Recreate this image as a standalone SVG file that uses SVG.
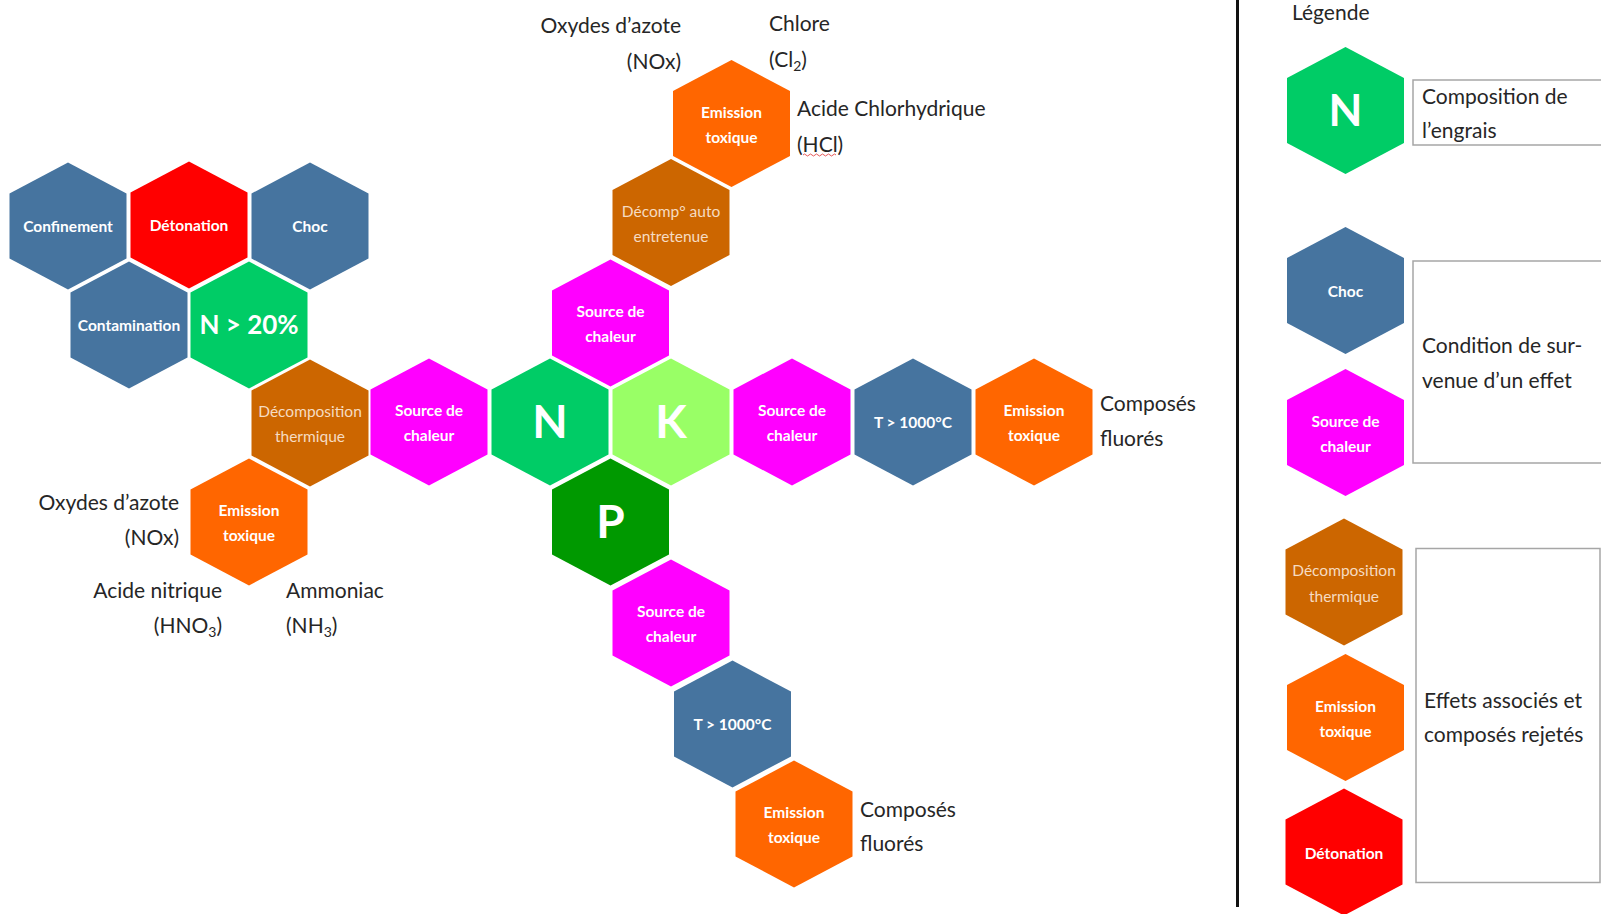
<svg xmlns="http://www.w3.org/2000/svg" xmlns:xlink="http://www.w3.org/1999/xlink" width="1601" height="914" viewBox="0 0 1601 914">
<style>
.blue{fill:#46749f}.red{fill:#ff0000}.green{fill:#00cc66}.lgreen{fill:#99ff66}.dgreen{fill:#009900}
.mag{fill:#ff00ff}.orange{fill:#ff6600}.brown{fill:#cc6600}
.hl{font-family:Lato,"Open Sans",sans-serif;font-size:15.5px;font-weight:bold;fill:#ffffff;text-anchor:middle}
.hb{font-family:Lato,"Open Sans",sans-serif;font-size:15.5px;font-weight:normal;fill:#f6dcc2;text-anchor:middle}
.big{font-family:Lato,"Open Sans",sans-serif;font-size:46px;font-weight:bold;fill:#ffffff;text-anchor:middle}
.lbl{font-family:Lato,"Open Sans",sans-serif;font-size:21px;fill:#262626}
.end{text-anchor:end}
.box{fill:#ffffff;stroke:#a6a6a6;stroke-width:1.5}
</style>
<defs>
<path id="hex" d="M0,-63.5 L58.5,-32.5 L58.5,32.5 L0,63.5 L-58.5,32.5 L-58.5,-32.5Z"/>
</defs>
<rect width="1601" height="914" fill="#ffffff"/>
<g id="connectors"/>
<!-- Left cluster -->
<g id="confinement"><use xlink:href="#hex" x="68" y="226" class="blue"/><text class="hl" x="68" y="232">Confinement</text></g>
<g id="detonation"><use xlink:href="#hex" x="189" y="225" class="red"/><text class="hl" x="189" y="231">Détonation</text></g>
<g id="choc"><use xlink:href="#hex" x="310" y="226" class="blue"/><text class="hl" x="310" y="232">Choc</text></g>
<g id="contamination"><use xlink:href="#hex" x="129" y="325" class="blue"/><text class="hl" x="129" y="331">Contamination</text></g>
<g id="n20"><use xlink:href="#hex" x="249" y="325" class="green"/><text class="hl" x="249" y="334" style="font-size:26px">N &gt; 20%</text></g>
<g id="decomp-left"><use xlink:href="#hex" x="310" y="423" class="brown"/><text class="hb" x="310" y="417">Décomposition</text><text class="hb" x="310" y="442">thermique</text></g>
<g id="emission-left"><use xlink:href="#hex" x="249" y="522" class="orange"/><text class="hl" x="249" y="516">Emission</text><text class="hl" x="249" y="541">toxique</text></g>
<g id="source-left"><use xlink:href="#hex" x="429" y="422" class="mag"/><text class="hl" x="429" y="416">Source de</text><text class="hl" x="429" y="441">chaleur</text></g>
<!-- NPK -->
<g id="n"><use xlink:href="#hex" x="550" y="422" class="green"/><text class="big" x="550" y="438">N</text></g>
<g id="k"><use xlink:href="#hex" x="671" y="422" class="lgreen"/><text class="big" x="671" y="438">K</text></g>
<g id="p"><use xlink:href="#hex" x="610.5" y="522" class="dgreen"/><text class="big" x="610.5" y="538">P</text></g>
<!-- Top branch -->
<g id="source-top"><use xlink:href="#hex" x="610.5" y="323" class="mag"/><text class="hl" x="610.5" y="317">Source de</text><text class="hl" x="610.5" y="342">chaleur</text></g>
<g id="decomp-auto"><use xlink:href="#hex" x="671" y="222.5" class="brown"/><text class="hb" x="671" y="216.5">Décomp° auto</text><text class="hb" x="671" y="241.5">entretenue</text></g>
<g id="emission-top"><use xlink:href="#hex" x="731.5" y="123.5" class="orange"/><text class="hl" x="731.5" y="117.5">Emission</text><text class="hl" x="731.5" y="142.5">toxique</text></g>
<!-- Right branch -->
<g id="source-right"><use xlink:href="#hex" x="792" y="422" class="mag"/><text class="hl" x="792" y="416">Source de</text><text class="hl" x="792" y="441">chaleur</text></g>
<g id="temp-right"><use xlink:href="#hex" x="913" y="422" class="blue"/><text class="hl" x="913" y="428">T &gt; 1000°C</text></g>
<g id="emission-right"><use xlink:href="#hex" x="1034" y="422" class="orange"/><text class="hl" x="1034" y="416">Emission</text><text class="hl" x="1034" y="441">toxique</text></g>
<!-- Bottom branch -->
<g id="source-bottom"><use xlink:href="#hex" x="671" y="623" class="mag"/><text class="hl" x="671" y="617">Source de</text><text class="hl" x="671" y="642">chaleur</text></g>
<g id="temp-bottom"><use xlink:href="#hex" x="732.5" y="724" class="blue"/><text class="hl" x="732.5" y="730">T &gt; 1000°C</text></g>
<g id="emission-bottom"><use xlink:href="#hex" x="794" y="824" class="orange"/><text class="hl" x="794" y="818">Emission</text><text class="hl" x="794" y="843">toxique</text></g>
<!-- Outer labels -->
<g id="labels">
<text class="lbl end" x="681" y="33">Oxydes d’azote</text>
<text class="lbl end" x="681" y="69">(NOx)</text>
<text class="lbl" x="769" y="31">Chlore</text>
<text class="lbl" x="769" y="67">(Cl<tspan font-size="14" dy="4">2</tspan><tspan dy="-4">)</tspan></text>
<text class="lbl" x="797" y="116">Acide Chlorhydrique</text>
<text class="lbl" x="797" y="152">(HCl)</text>
<path d="M803,155 q1.5,-2 3,0 t3,0 t3,0 t3,0 t3,0 t3,0 t3,0 t3,0 t3,0 t3,0 t3,0" fill="none" stroke="#e03030" stroke-width="0.8"/>
<text class="lbl" x="1100" y="411">Composés</text>
<text class="lbl" x="1100" y="446">fluorés</text>
<text class="lbl" x="860" y="817">Composés</text>
<text class="lbl" x="860" y="851">fluorés</text>
<text class="lbl end" x="179" y="510">Oxydes d’azote</text>
<text class="lbl end" x="179" y="545">(NOx)</text>
<text class="lbl end" x="222" y="598">Acide nitrique</text>
<text class="lbl end" x="222" y="633">(HNO<tspan font-size="14" dy="4">3</tspan><tspan dy="-4">)</tspan></text>
<text class="lbl" x="286" y="598">Ammoniac</text>
<text class="lbl" x="286" y="633">(NH<tspan font-size="14" dy="4">3</tspan><tspan dy="-4">)</tspan></text>
</g>
<!-- Legend -->
<g id="legend">
<line x1="1237.5" y1="0" x2="1237.5" y2="907" stroke="#111111" stroke-width="3"/>
<text class="lbl" x="1292" y="20">Légende</text>
<rect class="box" x="1413" y="80" width="190" height="65"/>
<text class="lbl" x="1422" y="104">Composition de</text>
<text class="lbl" x="1422" y="138">l’engrais</text>
<rect class="box" x="1413" y="261" width="190" height="202"/>
<text class="lbl" x="1422" y="353">Condition de sur-</text>
<text class="lbl" x="1422" y="388">venue d’un effet</text>
<rect class="box" x="1416" y="548.5" width="184" height="334"/>
<text class="lbl" x="1424" y="708">Effets associés et</text>
<text class="lbl" x="1424" y="742">composés rejetés</text>
</g>
<g id="legend-n"><use xlink:href="#hex" x="1345.5" y="110.5" class="green"/><text class="big" x="1345.5" y="126" style="font-size:44px">N</text></g>
<g id="legend-choc"><use xlink:href="#hex" x="1345.5" y="290.5" class="blue"/><text class="hl" x="1345.5" y="297">Choc</text></g>
<g id="legend-source"><use xlink:href="#hex" x="1345.5" y="432.5" class="mag"/><text class="hl" x="1345.5" y="426.5">Source de</text><text class="hl" x="1345.5" y="451.5">chaleur</text></g>
<g id="legend-decomp"><use xlink:href="#hex" x="1344" y="582" class="brown"/><text class="hb" x="1344" y="576">Décomposition</text><text class="hb" x="1344" y="601.5">thermique</text></g>
<g id="legend-emission"><use xlink:href="#hex" x="1345.5" y="717.5" class="orange"/><text class="hl" x="1345.5" y="711.5">Emission</text><text class="hl" x="1345.5" y="737">toxique</text></g>
<g id="legend-detonation"><use xlink:href="#hex" x="1344" y="852" class="red"/><text class="hl" x="1344" y="858.5">Détonation</text></g>
</svg>
